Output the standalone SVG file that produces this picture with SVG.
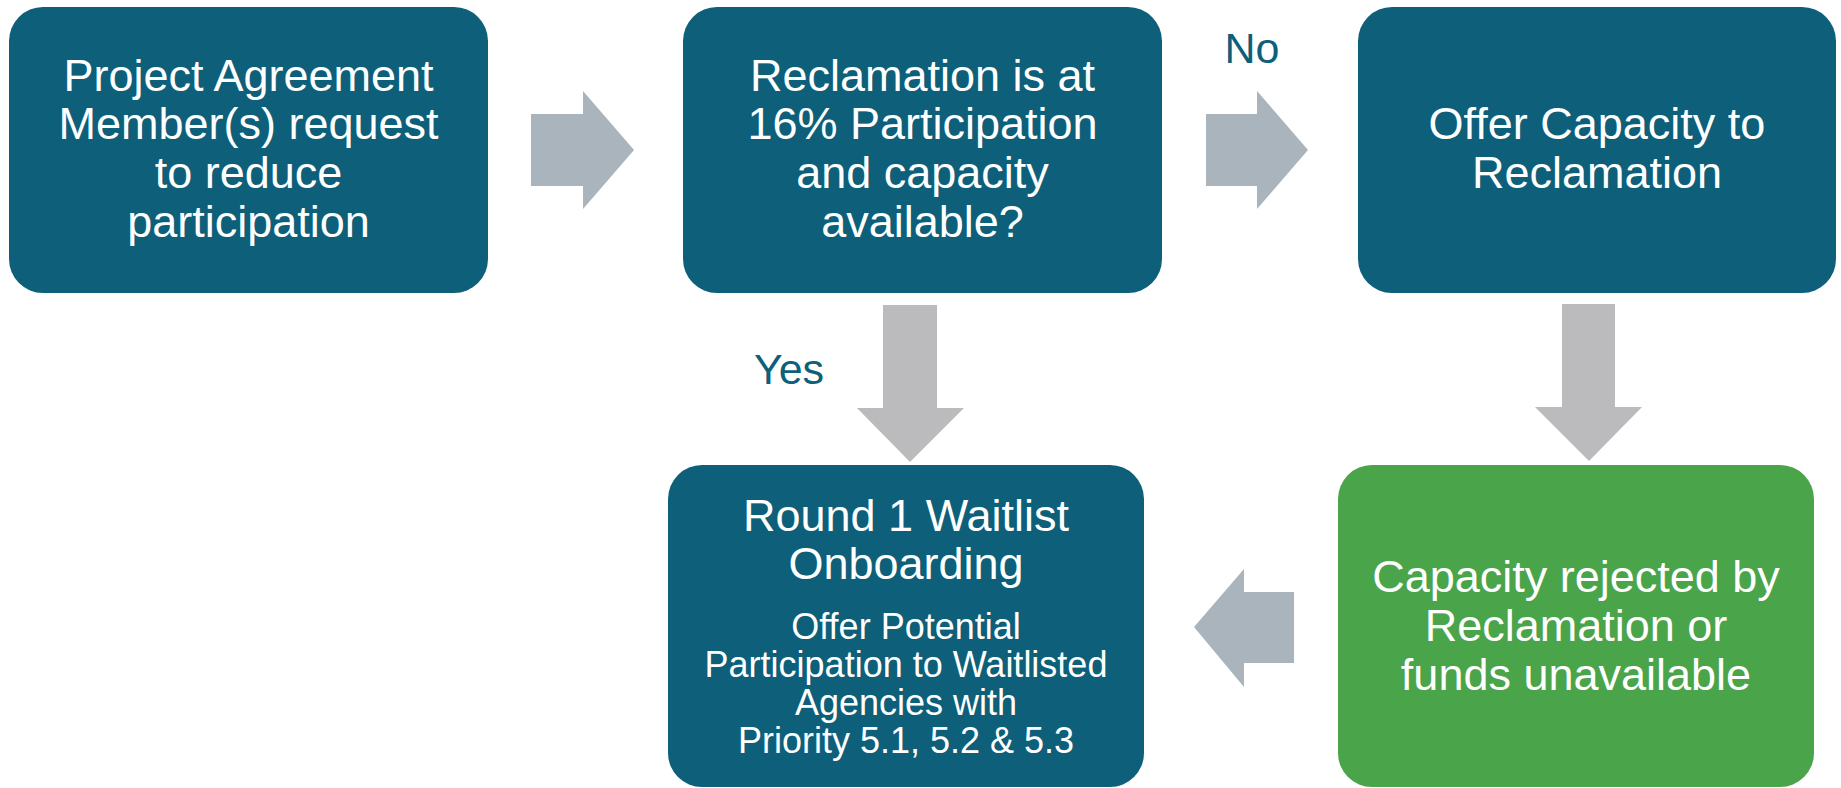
<svg xmlns="http://www.w3.org/2000/svg" width="1841" height="788" viewBox="0 0 1841 788">
<style>
.box{fill:#0d5f7a}
.green{fill:#4aa44a}
.t{font-family:"Liberation Sans",Arial,sans-serif;fill:#ffffff;text-anchor:middle;font-size:45px}
.s{font-size:36px}
.lbl{font-family:"Liberation Sans",Arial,sans-serif;fill:#0d5f7a;text-anchor:middle;font-size:43px}
.ah{fill:#a9b4bc}
.av{fill:#bbbbbd}
</style>
<rect width="1841" height="788" fill="#ffffff"/>
<g id="connectors">
<polygon class="ah" points="531,114 583,114 583,91 634,150 583,209 583,186 531,186"/>
<polygon class="ah" points="1206,114 1257,114 1257,91 1308,150 1257,209 1257,186 1206,186"/>
<polygon class="av" points="883,305 937,305 937,408 964,408 910,462 857,408 883,408"/>
<polygon class="av" points="1562,304 1615,304 1615,407 1642,407 1589,461 1535,407 1562,407"/>
<polygon class="ah" points="1294,592 1294,663 1244,663 1244,687 1194,627 1244,569 1244,592"/>
<text class="lbl" x="1252" y="63">No</text>
<text class="lbl" x="789" y="384">Yes</text>
</g>
<g id="node1">
<rect class="box" x="9" y="7" width="479" height="286" rx="34"/>
<text class="t" x="248.5" y="91">Project Agreement</text>
<text class="t" x="248.5" y="139">Member(s) request</text>
<text class="t" x="248.5" y="188">to reduce</text>
<text class="t" x="248.5" y="237">participation</text>
</g>
<g id="node2">
<rect class="box" x="683" y="7" width="479" height="286" rx="34"/>
<text class="t" x="922.5" y="91">Reclamation is at</text>
<text class="t" x="922.5" y="139">16% Participation</text>
<text class="t" x="922.5" y="188">and capacity</text>
<text class="t" x="922.5" y="237">available?</text>
</g>
<g id="node3">
<rect class="box" x="1358" y="7" width="478" height="286" rx="34"/>
<text class="t" x="1597" y="139">Offer Capacity to</text>
<text class="t" x="1597" y="188">Reclamation</text>
</g>
<g id="node4">
<rect class="box" x="668" y="465" width="476" height="322" rx="34"/>
<text class="t" x="906" y="531">Round 1 Waitlist</text>
<text class="t" x="906" y="579">Onboarding</text>
<text class="t s" x="906" y="639">Offer Potential</text>
<text class="t s" x="906" y="677">Participation to Waitlisted</text>
<text class="t s" x="906" y="715">Agencies with</text>
<text class="t s" x="906" y="753">Priority 5.1, 5.2 &amp; 5.3</text>
</g>
<g id="node5">
<rect class="green" x="1338" y="465" width="476" height="322" rx="34"/>
<text class="t" x="1576" y="592">Capacity rejected by</text>
<text class="t" x="1576" y="641">Reclamation or</text>
<text class="t" x="1576" y="690">funds unavailable</text>
</g>
</svg>
